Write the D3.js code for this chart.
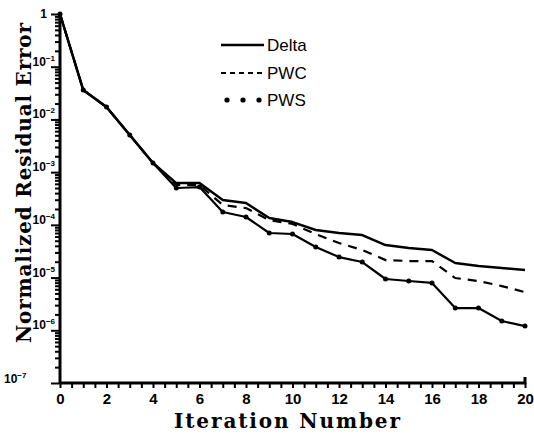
<!DOCTYPE html>
<html><head><meta charset="utf-8">
<script src="https://cdn.jsdelivr.net/npm/d3@7"></script>
<style>body{margin:0;background:#fff}svg{display:block}</style>
</head><body><svg id="c" width="534" height="435"></svg>
<script>
const iterations = d3.range(0, 21);
const delta = [1, 0.0361, 0.0172, 0.00506, 0.00149, 6.2e-4, 6.2e-4, 2.96e-4, 2.6e-4, 1.35e-4, 1.13e-4, 8.0e-5, 7.0e-5, 6.4e-5, 4.14e-5, 3.63e-5, 3.33e-5, 1.89e-5, 1.66e-5, 1.52e-5, 1.39e-5];
const pwc   = [1, 0.0361, 0.0172, 0.00506, 0.00149, 5.7e-4, 5.7e-4, 2.38e-4, 2.08e-4, 1.23e-4, 1.04e-4, 6.7e-5, 4.52e-5, 3.33e-5, 2.15e-5, 2.06e-5, 2.06e-5, 9.8e-6, 8.6e-6, 6.9e-6, 5.3e-6];
const pws   = [1, 0.0361, 0.0172, 0.00506, 0.00149, 5.0e-4, 5.2e-4, 1.75e-4, 1.41e-4, 7.0e-5, 6.7e-5, 3.79e-5, 2.45e-5, 1.97e-5, 9.4e-6, 8.6e-6, 7.9e-6, 2.64e-6, 2.64e-6, 1.5e-6, 1.2e-6];
const seriesNames = ["Delta", "PWC", "PWS"];
const xTickLabels = [0, 2, 4, 6, 8, 10, 12, 14, 16, 18, 20];
const yTickExps = [0, -1, -2, -3, -4, -5, -6, -7];

const svg = d3.select("#c");
const x = d3.scaleLinear().domain([0, 20]).range([60, 525]);
const y = d3.scaleLog().domain([1e-7, 1]).range([383, 14]);
const ink = "#000";

// X axis
const xAxisG = svg.append("g").attr("transform", "translate(0,383)");
xAxisG.call(d3.axisBottom(x).tickValues(d3.range(0, 20.01, 0.5)).tickSize(5).tickFormat(""));
xAxisG.select(".domain").attr("stroke", ink).attr("stroke-width", 3).attr("d", `M${x(0)},0H${x(20)}V-6`);
xAxisG.selectAll(".tick line").attr("stroke", ink).attr("stroke-width", 2);
const xLab = svg.append("g").attr("transform", "translate(0,383)");
xLab.call(d3.axisBottom(x).tickValues(xTickLabels).tickSize(0).tickPadding(10).tickFormat(d3.format("d")));
xLab.select(".domain").remove();
xLab.selectAll("text").attr("font-family", "'Liberation Sans', Arial, sans-serif").attr("font-weight", "bold").attr("font-size", 15).attr("fill", ink);

// Y axis
const minorY = [];
for (let e = -7; e < 0; e++) for (let m = 1; m < 10; m++) minorY.push(m * Math.pow(10, e));
minorY.push(1);
const yAxisG = svg.append("g").attr("transform", "translate(60,0)");
yAxisG.call(d3.axisLeft(y).tickValues(minorY).tickSize(5).tickFormat(""));
yAxisG.select(".domain").attr("stroke", ink).attr("stroke-width", 3).attr("d", `M0,${y(1)}V${y(1e-7)}`);
yAxisG.selectAll(".tick line").attr("stroke", ink).attr("stroke-width", 2);
yAxisG.selectAll(".tick").filter(d => Math.abs(Math.log10(d) - Math.round(Math.log10(d))) < 1e-9).select("line").attr("x2", -9);

// Y tick labels
const yl = svg.append("g").attr("font-family", "'Liberation Sans', Arial, sans-serif").attr("font-weight", "bold").attr("fill", ink);
yTickExps.forEach(e => {
  const v = Math.pow(10, e);
  if (e === 0) {
    yl.append("text").attr("x", 47).attr("y", y(v) + 4).attr("text-anchor", "end").attr("font-size", 12).text("1");
  } else {
    const t = yl.append("text").attr("font-size", 12);
    if (e === -7) { t.attr("x", 4).attr("y", y(v)); }
    else { t.attr("x", 55).attr("y", y(v) - 1).attr("text-anchor", "end"); }
    t.append("tspan").text("10");
    t.append("tspan").attr("dy", -5).attr("font-size", 8).text("−" + (-e));
  }
});

// Lines
const line = d3.line().x((d, i) => x(iterations[i])).y(d => y(d));
svg.append("path").datum(delta).attr("d", line).attr("fill", "none").attr("stroke", ink).attr("stroke-width", 2.5).attr("stroke-linejoin", "round");
svg.append("path").datum(pwc).attr("d", line).attr("fill", "none").attr("stroke", ink).attr("stroke-width", 2.2).attr("stroke-dasharray", "9,7");
svg.append("path").datum(pws).attr("d", line).attr("fill", "none").attr("stroke", ink).attr("stroke-width", 2.2).attr("stroke-linejoin", "round");
svg.append("g").selectAll("circle").data(pws).join("circle")
  .attr("cx", (d, i) => x(iterations[i])).attr("cy", d => y(d)).attr("r", 2.5).attr("fill", ink);

// Legend
const lg = svg.append("g").attr("font-family", "'Liberation Sans', Arial, sans-serif").attr("font-size", 17).attr("fill", ink);
const legY = [45, 73, 100];
lg.append("line").attr("x1", 221).attr("x2", 264).attr("y1", legY[0]).attr("y2", legY[0]).attr("stroke", ink).attr("stroke-width", 2.5);
lg.append("line").attr("x1", 221).attr("x2", 264).attr("y1", legY[1]).attr("y2", legY[1]).attr("stroke", ink).attr("stroke-width", 2).attr("stroke-dasharray", "5,4");
[227, 243, 259].forEach(cx => lg.append("circle").attr("cx", cx).attr("cy", legY[2]).attr("r", 2.6).attr("fill", ink));
seriesNames.forEach((n, i) => lg.append("text").attr("x", 267).attr("y", legY[i] + 6).text(n));

// Axis titles
svg.append("text").attr("x", 287).attr("y", 428).attr("text-anchor", "middle")
  .attr("font-family", "'DejaVu Serif', serif").attr("font-weight", "bold").attr("font-size", 20)
  .attr("textLength", 226).attr("lengthAdjust", "spacing").attr("fill", ink).text("Iteration Number");
svg.append("text").attr("transform", "translate(31,183) rotate(-90)").attr("text-anchor", "middle")
  .attr("font-family", "'DejaVu Serif', serif").attr("font-weight", "bold").attr("font-size", 20)
  .attr("textLength", 320).attr("lengthAdjust", "spacing").attr("fill", ink).text("Normalized Residual Error");
</script></body></html>
